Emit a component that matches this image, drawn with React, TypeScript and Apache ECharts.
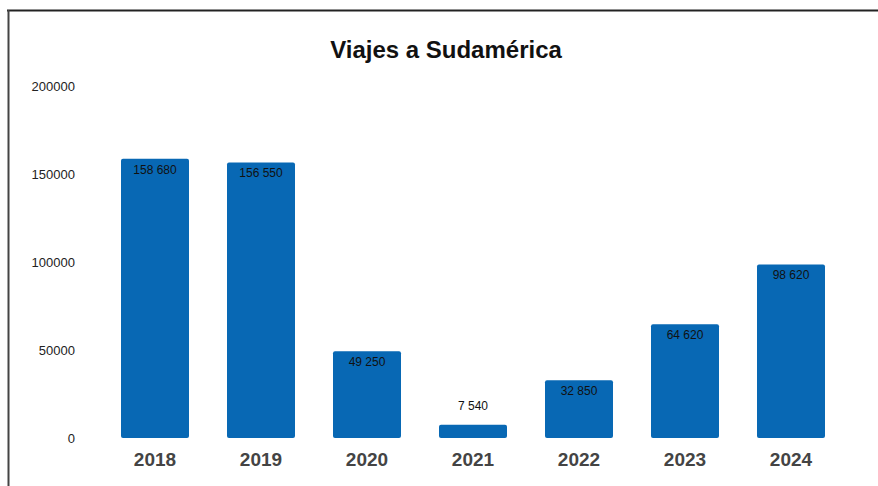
import React, { useEffect, useRef } from "react";
import * as echarts from "echarts";

const categories = ["2018", "2019", "2020", "2021", "2022", "2023", "2024"];
const values = [158680, 156550, 49250, 7540, 32850, 64620, 98620];
const title = "Viajes a Sudamérica";

const fmt = (v: number) => String(v).replace(/\B(?=(\d{3})+(?!\d))/g, " ");

export default function App() {
  const ref = useRef<HTMLDivElement>(null);
  useEffect(() => {
    if (!ref.current) return;
    const chart = echarts.init(ref.current, null, { renderer: "svg" });
    chart.setOption({
      animation: false,
      backgroundColor: "#ffffff",
      title: {
        text: title,
        left: 441,
        textAlign: "center",
        top: 32,
        textStyle: {
          fontFamily: "Liberation Sans, Arial, sans-serif",
          fontWeight: "bold",
          fontSize: 24,
          color: "#111111",
        },
      },
      graphic: [
        { type: "line", shape: { x1: 7, y1: 10.5, x2: 878, y2: 10.5 }, style: { stroke: "#222", lineWidth: 2 } },
        { type: "line", shape: { x1: 8.5, y1: 10, x2: 8.5, y2: 486 }, style: { stroke: "#444", lineWidth: 2 } },
      ],
      grid: { left: 102, right: 34, top: 86, bottom: 48, containLabel: false },
      xAxis: {
        type: "category",
        data: categories,
        axisLine: { show: false },
        axisTick: { show: false },
        axisLabel: {
          margin: 12,
          fontFamily: "Liberation Sans, Arial, sans-serif",
          fontWeight: "bold",
          fontSize: 19,
          color: "#444444",
        },
      },
      yAxis: {
        type: "value",
        min: 0,
        max: 200000,
        interval: 50000,
        axisLine: { show: false },
        axisTick: { show: false },
        splitLine: { show: false },
        axisLabel: {
          margin: 27,
          fontFamily: "Liberation Sans, Arial, sans-serif",
          fontSize: 13,
          color: "#222222",
          formatter: (v: number) => String(v),
        },
      },
      series: [
        {
          type: "bar",
          data: values.map((v) => ({
            value: v,
            label: v < 20000 ? { position: "top", distance: 13 } : { position: "insideTop", distance: 5 },
          })),
          barWidth: 68,
          itemStyle: { color: "#0868b4", borderRadius: 2 },
          label: {
            show: true,
            fontFamily: "Liberation Sans, Arial, sans-serif",
            fontSize: 12,
            color: "#111111",
            formatter: (p: any) => fmt(p.value),
          },
        },
      ],
    });
    return () => chart.dispose();
  }, []);
  return (
    <div
      ref={ref}
      style={{ position: "fixed", left: 0, top: 0, width: 878, height: 486 }}
    />
  );
}
